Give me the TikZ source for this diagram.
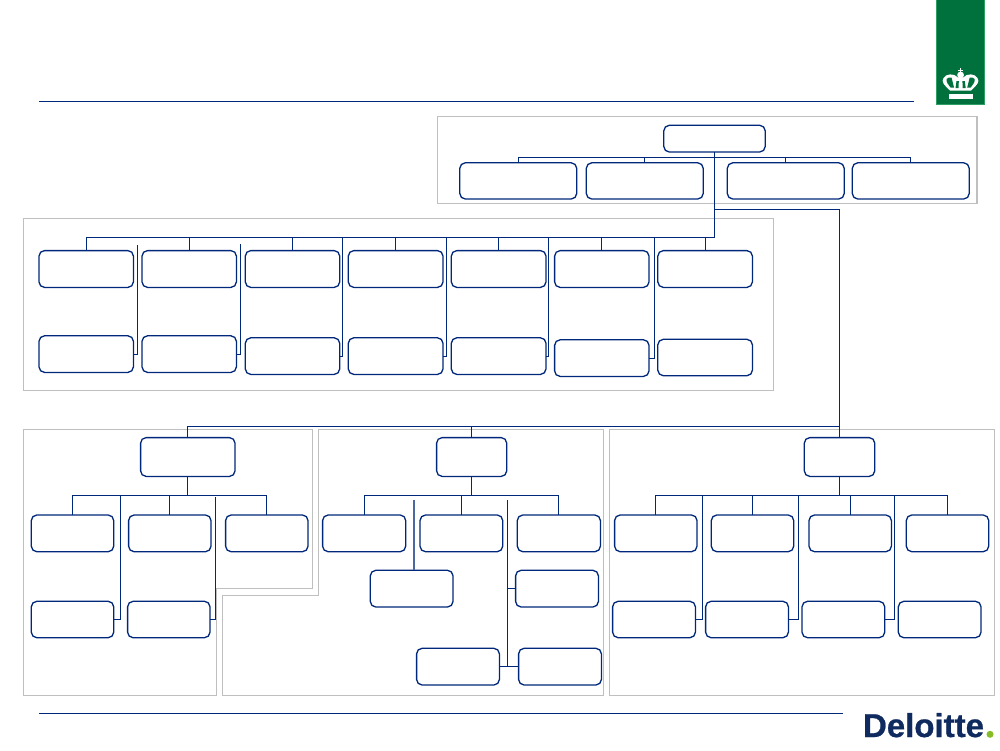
\documentclass[tikz,border=0pt]{standalone}
\usepackage{fontspec}
\setmainfont{Liberation Sans}
\newfontfamily\logofont[FakeBold=0.7]{Liberation Sans Bold}
\definecolor{navy}{HTML}{00287A}
\definecolor{frameg}{HTML}{BFBFBF}
\definecolor{crest}{HTML}{00703C}
\definecolor{crestedge}{HTML}{2E9E64}
\definecolor{logonavy}{HTML}{0F2A5E}
\definecolor{logodot}{HTML}{86BC25}
\tikzset{
  unit/.style={draw=navy,line width=1.3pt,rounded corners=5.5pt,fill=white,inner sep=0pt,outer sep=0pt},
  link/.style={draw=navy,line width=1.1pt},
  softlink/.style={draw=navy!70,line width=1.7pt},
  region/.style={draw=frameg,line width=1.1pt},
  rule/.style={draw=navy,line width=1.6pt}
}
\newcommand{\bx}[5]{%
  \pgfmathsetmacro{\bxw}{#4-#2-0.6}\pgfmathsetmacro{\bxh}{#5-#3-0.6}%
  \pgfmathsetmacro{\bxcx}{(#2+#4)/2}\pgfmathsetmacro{\bxcy}{(#3+#5)/2}%
  \node[unit,minimum width=\bxw pt,minimum height=\bxh pt] (#1) at (\bxcx,\bxcy) {};}
\begin{document}
\begin{tikzpicture}[x=1pt,y=-1pt]
\useasboundingbox (0,0) rectangle (1000,750);
\fill[white] (0,0) rectangle (1000,750);
% rules
\draw[rule] (39,101.5) -- (914,101.5);
\draw[draw=navy,line width=1pt] (39,713.5) -- (843,713.5);
% crest
\fill[crest,draw=crestedge,line width=1pt] (936.5,-1) rectangle (984.5,104.5);
\begin{scope}
\fill[white] (949,94.3) rectangle (973,99);
\fill[white] (960,67.5) rectangle (961.3,74);
\fill[white] (958,69.6) rectangle (963.3,70.8);
\fill[white] (960.6,75) circle (3.4);
\fill[white] (950,90.5) .. controls (944,85) and (941,82) .. (943.5,78)
  .. controls (946,73.5) and (954,73) .. (958,77.5) -- (960.6,77)
  -- (963.2,77.5) .. controls (967,73) and (975,73.5) .. (977.5,78)
  .. controls (980,82) and (977,85) .. (971,90.5) -- cycle;
\fill[crest] (946.5,79) .. controls (948,77.5) and (950,77) .. (951.5,77.5) -- (954,87.5) -- (950.5,87.5) .. controls (948.5,85) and (946,82) .. (946.5,79) -- cycle;
\fill[crest] (974.7,79) .. controls (973.2,77.5) and (971.2,77) .. (969.7,77.5) -- (967.2,87.5) -- (970.7,87.5) .. controls (972.7,85) and (975.2,82) .. (974.7,79) -- cycle;
\fill[crest] (956.5,81) -- (958.8,81) -- (958.5,88) -- (955.5,88) -- cycle;
\fill[crest] (964.7,81) -- (962.4,81) -- (962.7,88) -- (965.7,88) -- cycle;
\end{scope}
% logo
\node[anchor=base west,inner sep=0pt,outer sep=0pt,text=logonavy,font=\logofont\fontsize{33}{33}\selectfont] (logo) at (863,737) {Deloitte};
\fill[logodot] (990,734.3) circle (3.5);
% region frames
\draw[region] (437.5,116.5) rectangle (977,203.5);
\draw[region] (23.5,218.5) rectangle (773.5,390.5);
\draw[region] (23.5,429.5) -- (312.5,429.5) -- (312.5,588.5) -- (216.5,588.5) -- (216.5,695.5) -- (23.5,695.5) -- cycle;
\draw[region] (222.5,595.5) -- (318.5,595.5) -- (318.5,429.5) -- (603.5,429.5) -- (603.5,695.5) -- (222.5,695.5) -- cycle;
\draw[region] (609.5,429.5) rectangle (994.5,695.5);
% top group
\bx{ceo}{663.5}{125}{765.5}{152.3}
\bx{ta}{459.5}{162.5}{577}{199.3}
\bx{tb}{586}{162.5}{703.5}{199.3}
\bx{tc}{727}{162.5}{844.5}{199.3}
\bx{td}{852}{162.5}{969.5}{199.3}
% staff group, upper row
\bx{sa}{38.7}{250.3}{133.7}{287.7}
\bx{sb}{141.7}{250.3}{236.7}{287.7}
\bx{sc}{245}{250.3}{340}{287.7}
\bx{sd}{348}{250.3}{443.3}{287.7}
\bx{se}{451}{250.3}{546.3}{287.7}
\bx{sf}{554.3}{250.3}{649.3}{287.7}
\bx{sg}{657.5}{250.3}{752.7}{287.7}
% staff group, lower row
\bx{ua}{38.7}{335.5}{133.7}{372.7}
\bx{ub}{141.7}{335.5}{236.7}{372.7}
\bx{uc}{245}{337.5}{340}{374.7}
\bx{ud}{348}{337.5}{443.3}{374.7}
\bx{ue}{451}{337.5}{546.3}{374.7}
\bx{uf}{554.3}{339.5}{649.3}{376.7}
\bx{ug}{657.5}{339}{752.7}{376}
% left group
\bx{la}{140.3}{437.3}{235.3}{476.7}
\bx{lb}{31}{514.7}{114}{552}
\bx{lc}{128.3}{514.7}{211.3}{552}
\bx{ld}{225.3}{514.7}{308.3}{552}
\bx{le}{31}{601}{114}{638}
\bx{lf}{127.3}{601}{210.3}{638}
% middle group
\bx{ma}{436.3}{437.3}{507}{476.7}
\bx{mb}{322.3}{514.7}{406}{552}
\bx{mc}{419.7}{514.7}{503}{552}
\bx{md}{517}{514.7}{600.7}{552}
\bx{me}{370}{570}{453.3}{607.3}
\bx{mf}{515.3}{570}{598.7}{607.3}
\bx{mg}{416.3}{648}{499.7}{685.3}
\bx{mh}{518.3}{648}{601.7}{685.3}
% right group
\bx{ra}{804}{437.3}{875}{476.7}
\bx{rb}{614.3}{514.7}{697.3}{552}
\bx{rc}{711}{514.7}{794}{552}
\bx{rd}{808.7}{514.7}{891.7}{552}
\bx{re}{906}{514.7}{989}{552}
\bx{rf}{612.3}{601}{695.7}{638}
\bx{rg}{705.3}{601}{788.7}{638}
\bx{rh}{801.7}{601}{885}{638}
\bx{ri}{898}{601}{981.3}{638}
% bus levels and free ends
\coordinate (busT) at (0,157.5);
\coordinate (busS) at (0,237.5);
\coordinate (busG) at (0,426.5);
\coordinate (busL) at (0,495.5);
\coordinate (spine) at (714.5,209.5);
\coordinate (sv1) at (137.5,245);
\coordinate (sv2) at (240.5,244);
\coordinate (sv3) at (342.5,237.5);
\coordinate (sv4) at (446.5,237.5);
\coordinate (sv5) at (548.5,237.5);
\coordinate (sv6) at (654.5,237.5);
\coordinate (lv1) at (120.5,495.5);
\coordinate (lv2) at (215.5,497);
\coordinate (mv1) at (414,500);
\coordinate (mv2) at (507.5,500);
\coordinate (rv1) at (702.5,495.5);
\coordinate (rv2) at (798.5,495.5);
\coordinate (rv3) at (894.5,495.5);
% top group connectors
\draw[link] (ta.north) -- (ta.north |- busT) -- (td.north |- busT) -- (td.north);
\draw[link] (tb.north) -- (tb.north |- busT);
\draw[link] (tc.north) -- (tc.north |- busT);
\draw[link] (ceo.south) -- (ceo.south |- busS) -- (sa.north |- busS) -- (sa.north);
\draw[link] (sb.north) -- (sb.north |- busS);
\draw[link] (sc.north) -- (sc.north |- busS);
\draw[link] (sd.north) -- (sd.north |- busS);
\draw[link] (se.north) -- (se.north |- busS);
\draw[link] (sf.north) -- (sf.north |- busS);
\draw[link] (sg.north) -- (sg.north |- busS);
% staff verticals
\draw[link] (sv1) |- (ua.east);
\draw[link] (sv2) |- (ub.east);
\draw[link] (sv3) |- (uc.east);
\draw[link] (sv4) |- (ud.east);
\draw[link] (sv5) |- (ue.east);
\draw[link] (sv6) |- (uf.east);
% main branch
\draw[link] (spine) -| (ra.north);
\draw[link] (la.north) -- (la.north |- busG) -- (ra.north |- busG);
\draw[link] (ma.north) -- (ma.north |- busG);
% left group
\draw[link] (la.south) -- (la.south |- busL);
\draw[link] (lb.north) -- (lb.north |- busL) -- (ld.north |- busL) -- (ld.north);
\draw[link] (lc.north) -- (lc.north |- busL);
\draw[link] (lv1) |- (le.east);
\draw[link] (lv2) |- (lf.east);
% middle group
\draw[link] (ma.south) -- (ma.south |- busL);
\draw[link] (mb.north) -- (mb.north |- busL) -- (md.north |- busL) -- (md.north);
\draw[link] (mc.north) -- (mc.north |- busL);
\draw[softlink] (mv1) -- (mv1 |- me.north);
\draw[link] (mv2) -- (mv2 |- mh.west);
\draw[link] (mv2 |- mf.west) -- (mf.west);
\draw[link] (mg.east) -- (mh.west);
% right group
\draw[link] (ra.south) -- (ra.south |- busL);
\draw[link] (rb.north) -- (rb.north |- busL) -- (re.north |- busL) -- (re.north);
\draw[link] (rc.north) -- (rc.north |- busL);
\draw[link] (rd.north) -- (rd.north |- busL);
\draw[link] (rv1) |- (rf.east);
\draw[link] (rv2) |- (rg.east);
\draw[link] (rv3) |- (rh.east);
\end{tikzpicture}
\end{document}
